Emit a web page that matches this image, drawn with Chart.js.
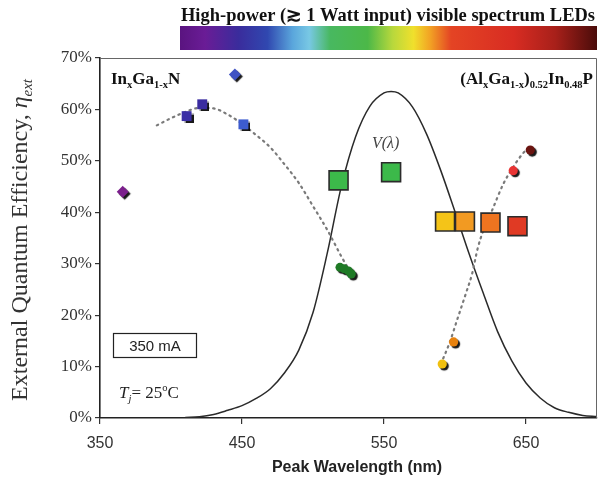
<!DOCTYPE html>
<html>
<head>
<meta charset="utf-8">
<script src="https://cdn.jsdelivr.net/npm/chart.js@4"></script>
<style>
  html, body { margin: 0; padding: 0; background: #fff; }
  #wrap { width: 598px; height: 482px; position: relative; }
</style>
</head>
<body>
<div id="wrap"><canvas id="eqeChart"></canvas></div>
<script>
// ---- values (wavelength in nm, efficiency in %) ----
const xTicks = [350, 450, 550, 650];
const yTicks = [0, 10, 20, 30, 40, 50, 60, 70];

// photopic eye response V(lambda), drawn to the figure's scale
const vLambdaNm  = [410, 420, 430, 440, 450, 460, 470, 480, 490, 500, 510, 520, 530, 540, 550, 555,
                    560, 570, 580, 590, 600, 610, 620, 630, 640, 650, 660, 670, 680, 690, 700];
const vLambdaEqe = [0.1, 0.25, 0.7, 1.5, 2.4, 3.8, 5.7, 8.8, 13.2, 20.5, 32.0, 45.1, 54.7, 60.6, 63.2, 63.5,
                    63.2, 60.5, 55.2, 48.1, 40.1, 31.9, 24.2, 16.8, 11.1, 6.8, 3.9, 2.0, 1.1, 0.5, 0.3];

// InGaN dotted trend
const ingaFitNm  = [390, 400, 410, 420, 430, 440, 450, 460, 470, 480, 490, 500, 510, 520, 526];
const ingaFitEqe = [56.9, 58.3, 59.5, 60.3, 60.2, 59.0, 57.2, 55.0, 52.6, 49.3, 45.7, 41.2, 36.6, 31.4, 28.5];

// AlGaInP dotted trend
const algaFitNm  = [590, 596, 602, 608, 612, 616, 620, 626, 634, 641, 648, 654];
const algaFitEqe = [10.5, 14.5, 19.5, 24.5, 28.0, 33.0, 36.5, 40.3, 45.5, 48.8, 51.5, 53.0];

// InGaN small squares
const ingaSqNm  = [411, 422, 451];
const ingaSqEqe = [58.7, 61.0, 57.1];
// InGaN diamonds
const ingaDiaNm  = [366, 445];
const ingaDiaEqe = [44.0, 66.8];
// green cluster
const greenNm  = [519, 522, 525, 527];
const greenEqe = [29.3, 29.0, 28.6, 28.0];
// big squares (newer devices)
const bigSqNm  = [518, 555, 593, 607, 625, 644];
const bigSqEqe = [46.2, 47.8, 38.2, 38.2, 38.0, 37.3];
// AlGaInP circles
const algaDotNm  = [591, 599, 641, 653];
const algaDotEqe = [10.5, 14.8, 48.1, 52.1];

// ---- colours ----
const ingaSqColors  = ['#3b2fa6', '#3a2ca0', '#3d5ccf'];
const ingaDiaColors = ['#7b1f8c', '#3f52c4'];
const bigSqColors   = ['#3cb94a', '#3cb94a', '#f4c418', '#f29a22', '#ee7420', '#e03a24'];
const algaDotColors = ['#f0c010', '#e8820e', '#e83434', '#6a1410'];

const pts = (xs, ys) => xs.map((x, i) => ({ x: x, y: ys[i] }));

// draw text made of runs with sub/superscripts
function richText(ctx, x, y, runs, size, family, weight, align) {
    const fontFor = (r) => {
        const s = (r.k === 'sub' || r.k === 'sup') ? size * 0.62 : size;
        return (r.i ? 'italic ' : '') + weight + ' ' + s + 'px ' + family;
    };
    ctx.textAlign = 'left';
    let total = 0;
    runs.forEach(r => { ctx.font = fontFor(r); total += ctx.measureText(r.t).width; });
    let cx = align === 'right' ? x - total : (align === 'center' ? x - total / 2 : x);
    runs.forEach(r => {
        ctx.font = fontFor(r);
        let dy = 0;
        if (r.k === 'sub') dy = size * 0.22;
        if (r.k === 'sup') dy = -size * 0.4;
        ctx.fillText(r.t, cx, y + dy);
        cx += ctx.measureText(r.t).width;
    });
}

const decorations = {
    id: 'decorations',
    beforeDatasetDraw(chart, args) {
        const ds = chart.data.datasets[args.index];
        if (ds.shadow) {
            const ctx = chart.ctx;
            ctx.save();
            ctx.shadowColor = 'rgba(0,0,0,0.9)';
            ctx.shadowOffsetX = 2;
            ctx.shadowOffsetY = 2;
            ctx.shadowBlur = 1;
        }
    },
    afterDatasetDraw(chart, args) {
        if (chart.data.datasets[args.index].shadow) chart.ctx.restore();
    },
    afterDraw(chart) {
        const ctx = chart.ctx;
        const a = chart.chartArea;
        ctx.save();

        // plot frame (top / right)
        ctx.strokeStyle = '#666';
        ctx.lineWidth = 1;
        ctx.beginPath();
        ctx.moveTo(a.left, a.top + 0.5);
        ctx.lineTo(a.right - 0.5, a.top + 0.5);
        ctx.lineTo(a.right - 0.5, a.bottom);
        ctx.stroke();

        // spectrum bar
        const bx = 180, bw = 417, by = 26, bh = 24;
        const g = ctx.createLinearGradient(bx, 0, bx + bw, 0);
        g.addColorStop(0.00, '#5a1480');
        g.addColorStop(0.06, '#6a1c96');
        g.addColorStop(0.14, '#3a2c9c');
        g.addColorStop(0.21, '#3048b0');
        g.addColorStop(0.27, '#5aa6dc');
        g.addColorStop(0.31, '#78c8e4');
        g.addColorStop(0.36, '#48b860');
        g.addColorStop(0.45, '#4cb848');
        g.addColorStop(0.51, '#b8d83c');
        g.addColorStop(0.56, '#f0e02c');
        g.addColorStop(0.60, '#f2a224');
        g.addColorStop(0.65, '#e44424');
        g.addColorStop(0.80, '#d82c22');
        g.addColorStop(0.90, '#a8201a');
        g.addColorStop(1.00, '#4a0c0a');
        ctx.fillStyle = g;
        ctx.fillRect(bx, by, bw, bh);

        // title over the bar
        ctx.fillStyle = '#111';
        ctx.textBaseline = 'alphabetic';
        ctx.textAlign = 'left';
        ctx.font = 'bold 19px "Liberation Serif"';
        ctx.fillText('High-power (\u2273 1 Watt input) visible spectrum LEDs', 181, 21, 414);

        // material labels
        ctx.fillStyle = '#111';
        richText(ctx, 111, 84, [{ t: 'In' }, { t: 'x', k: 'sub' }, { t: 'Ga' }, { t: '1-x', k: 'sub' }, { t: 'N' }],
            17, '"Liberation Serif"', 'bold', 'left');
        richText(ctx, 593, 84, [{ t: '(Al' }, { t: 'x', k: 'sub' }, { t: 'Ga' }, { t: '1-x', k: 'sub' }, { t: ')' },
            { t: '0.52', k: 'sub' }, { t: 'In' }, { t: '0.48', k: 'sub' }, { t: 'P' }],
            17, '"Liberation Serif"', 'bold', 'right');

        // V(lambda)
        ctx.fillStyle = '#444';
        ctx.textAlign = 'left';
        ctx.font = 'italic 16px "Liberation Serif"';
        ctx.fillText('V(\u03bb)', 372, 148);

        // current box
        ctx.strokeStyle = '#222';
        ctx.lineWidth = 1.2;
        ctx.strokeRect(113.5, 333.5, 83, 24);
        ctx.fillStyle = '#222';
        ctx.font = '15px "Liberation Sans"';
        ctx.textAlign = 'center';
        ctx.fillText('350 mA', 155, 351);
        richText(ctx, 119, 398, [{ t: 'T', i: true }, { t: 'j', k: 'sub', i: true }, { t: '= 25' },
            { t: 'o', k: 'sup' }, { t: 'C' }], 17, '"Liberation Serif"', '', 'left');

        // axis titles
        ctx.fillStyle = '#222';
        ctx.font = 'bold 16px "Liberation Sans"';
        ctx.textAlign = 'center';
        ctx.fillText('Peak Wavelength (nm)', 357, 472);

        ctx.translate(27, 240);
        ctx.rotate(-Math.PI / 2);
        ctx.fillStyle = '#333';
        richText(ctx, 0, 0, [{ t: 'External Quantum Efficiency, ' }, { t: '\u03b7', i: true },
            { t: 'ext', k: 'sub', i: true }], 24, '"Liberation Serif"', '', 'center');
        ctx.restore();
    }
};

const dotted = { borderColor: '#7a7a7a', borderWidth: 2.2, borderDash: [1.5, 4.5], borderCapStyle: 'round',
                 showLine: true, pointRadius: 0, tension: 0.4, cubicInterpolationMode: 'monotone', fill: false };

new Chart(document.getElementById('eqeChart'), {
    type: 'scatter',
    data: {
        datasets: [
            { label: 'big squares', data: pts(bigSqNm, bigSqEqe), pointStyle: 'rect', pointRadius: 13.4,
              pointBackgroundColor: bigSqColors, pointBorderColor: '#2b2b2b', pointBorderWidth: 1.6, order: 1 },
            { label: 'InGaN squares', data: pts(ingaSqNm, ingaSqEqe), pointStyle: 'rect', pointRadius: 7,
              pointBackgroundColor: ingaSqColors, pointBorderWidth: 0, shadow: true, order: 2 },
            { label: 'InGaN diamonds', data: pts(ingaDiaNm, ingaDiaEqe), pointStyle: 'rectRot', pointRadius: 6,
              pointBackgroundColor: ingaDiaColors, pointBorderWidth: 0, shadow: true, order: 2 },
            { label: 'green', data: pts(greenNm, greenEqe), pointStyle: 'circle', pointRadius: 4.5,
              pointBackgroundColor: '#1f7a26', pointBorderWidth: 0, shadow: true, order: 2 },
            { label: 'AlGaInP', data: pts(algaDotNm, algaDotEqe), pointStyle: 'circle', pointRadius: 4.6,
              pointBackgroundColor: algaDotColors, pointBorderWidth: 0, shadow: true, order: 2 },
            Object.assign({ label: 'InGaN fit', data: pts(ingaFitNm, ingaFitEqe), order: 5 }, dotted),
            Object.assign({ label: 'AlGaInP fit', data: pts(algaFitNm, algaFitEqe), order: 5 }, dotted),
            { label: 'V', data: pts(vLambdaNm, vLambdaEqe), showLine: true, pointRadius: 0,
              borderColor: '#2a2a2a', borderWidth: 1.5, tension: 0.4, cubicInterpolationMode: 'monotone', order: 6 }
        ]
    },
    options: {
        responsive: true,
        maintainAspectRatio: false,
        animation: false,
        layout: { autoPadding: false, padding: { top: 58, right: 1, left: 0, bottom: 0 } },
        plugins: { legend: { display: false }, tooltip: { enabled: false } },
        scales: {
            x: {
                type: 'linear', min: 350, max: 700,
                afterBuildTicks: (s) => { s.ticks = xTicks.map(v => ({ value: v })); },
                afterFit: (s) => { s.height = 64; s.paddingLeft = 0; s.paddingRight = 0; },
                grid: { drawOnChartArea: false, drawTicks: true, tickLength: 6, color: '#333', lineWidth: 1.2 },
                border: { display: true, color: '#222', width: 1.6 },
                ticks: { color: '#333', padding: 10, font: { family: '"Liberation Sans"', size: 16 }, maxRotation: 0 }
            },
            y: {
                type: 'linear', min: 0, max: 70,
                afterBuildTicks: (s) => { s.ticks = yTicks.map(v => ({ value: v })); },
                afterFit: (s) => { s.width = 100; s.paddingTop = 0; s.paddingBottom = 0; },
                grid: { drawOnChartArea: false, drawTicks: true, tickLength: 5, color: '#333', lineWidth: 1.2 },
                border: { display: true, color: '#222', width: 1.6 },
                ticks: { color: '#333', padding: 3, font: { family: '"Liberation Serif"', size: 17 },
                         callback: (v) => v + '%' }
            }
        }
    },
    plugins: [decorations]
});
</script>
</body>
</html>
